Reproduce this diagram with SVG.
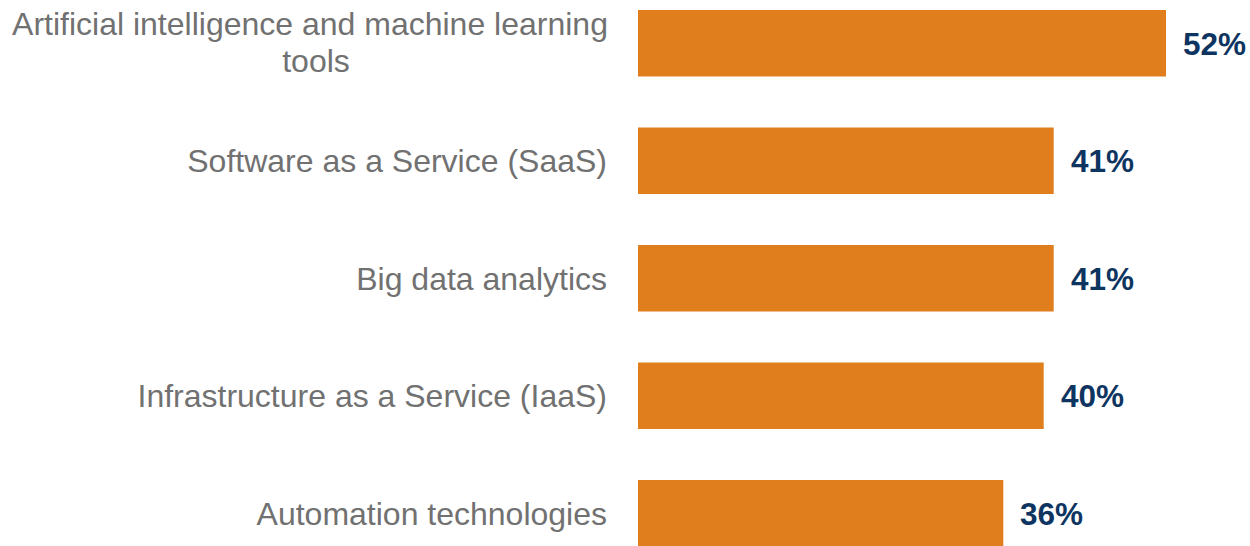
<svg xmlns="http://www.w3.org/2000/svg" width="1250" height="546" viewBox="0 0 1250 546">
<style>
.bar{fill:#E07E1E}
.lbl{font-family:"Liberation Sans",Arial,sans-serif;font-size:32px;fill:#717171;text-anchor:end}
.val{font-family:"Liberation Sans",Arial,sans-serif;font-size:31.5px;font-weight:bold;fill:#0E3561}
</style>
<rect width="1250" height="546" fill="#FFFFFF"/>
<g id="row1">
<rect class="bar" x="638" y="10" width="528" height="66.5"/>
<text class="lbl" x="310" y="35" style="text-anchor:middle">Artificial intelligence and machine learning</text>
<text class="lbl" x="316" y="72" style="text-anchor:middle">tools</text>
<text class="val" x="1183" y="55">52%</text>
</g>
<g id="row2">
<rect class="bar" x="638" y="127.5" width="415.7" height="66.5"/>
<text class="lbl" x="607" y="172.3">Software as a Service (SaaS)</text>
<text class="val" x="1071" y="172.3">41%</text>
</g>
<g id="row3">
<rect class="bar" x="638" y="245" width="415.7" height="66.5"/>
<text class="lbl" x="607" y="289.8">Big data analytics</text>
<text class="val" x="1071" y="289.8">41%</text>
</g>
<g id="row4">
<rect class="bar" x="638" y="362.5" width="405.7" height="66.5"/>
<text class="lbl" x="607" y="407.3">Infrastructure as a Service (IaaS)</text>
<text class="val" x="1061" y="407.3">40%</text>
</g>
<g id="row5">
<rect class="bar" x="638" y="480" width="365.3" height="66.5"/>
<text class="lbl" x="607" y="524.8">Automation technologies</text>
<text class="val" x="1020" y="524.8">36%</text>
</g>
<g id="connectors"/>
</svg>
